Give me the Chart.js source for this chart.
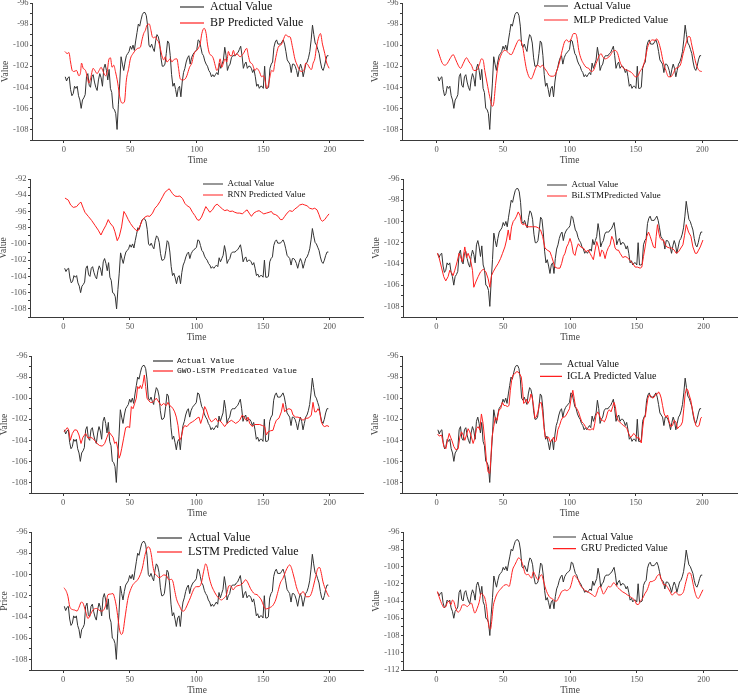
<!DOCTYPE html>
<html><head><meta charset="utf-8">
<script src="https://cdn.jsdelivr.net/npm/chart.js@4.4.1/dist/chart.umd.min.js"></script>
<style>
html,body{margin:0;padding:0;background:#fff;width:738px;height:694px;overflow:hidden;position:relative}
canvas{position:absolute}
</style></head><body>
<script>
// ---------------- DATA ----------------
const actualLabel = 'Actual Value';
const actualValue = [
-103.0,-103.4,-103.1,-103.0,-104.2,-104.8,-104.6,-103.9,-104.1,-103.9,
-104.8,-105.2,-106.0,-105.2,-105.0,-104.7,-103.0,-102.7,-103.8,-104.0,
-103.0,-102.8,-103.5,-104.0,-104.3,-103.3,-102.7,-103.1,-103.9,-102.2,
-101.8,-102.4,-103.3,-102.3,-104.1,-104.5,-106.0,-106.1,-106.5,-108.0,
-105.6,-103.6,-101.1,-101.8,-102.4,-101.6,-101.0,-100.8,-100.6,-100.1,
-100.4,-100.0,-100.5,-99.6,-98.8,-98.0,-98.2,-97.6,-97.1,-96.9,
-96.9,-97.2,-98.2,-100.0,-100.2,-99.9,-100.3,-100.6,-99.6,-99.0,
-99.2,-99.8,-101.2,-102.0,-102.0,-101.8,-100.8,-99.6,-99.8,-101.0,
-102.8,-103.9,-103.6,-104.2,-104.9,-104.1,-103.9,-104.9,-103.5,-102.6,
-102.2,-101.6,-101.2,-101.0,-101.8,-101.2,-100.9,-100.7,-100.6,-100.4,
-99.5,-99.6,-100.2,-100.8,-101.0,-101.5,-101.8,-102.0,-102.4,-102.6,
-103.0,-102.8,-103.0,-102.8,-102.6,-102.8,-101.7,-102.2,-101.8,-101.4,
-100.2,-101.0,-102.4,-102.0,-101.8,-101.2,-101.0,-101.0,-101.0,-100.8,
-100.7,-100.4,-100.1,-101.0,-102.2,-101.8,-101.6,-102.2,-102.0,-102.0,
-102.2,-102.6,-102.3,-103.0,-103.9,-103.7,-104.1,-103.9,-103.9,-104.1,
-102.0,-104.1,-104.1,-104.0,-102.2,-101.8,-101.6,-100.2,-99.7,-99.5,
-99.9,-99.9,-99.9,-99.7,-99.5,-99.9,-100.6,-101.4,-101.6,-101.8,
-102.6,-101.8,-101.8,-102.0,-102.4,-103.0,-102.3,-101.8,-102.2,-103.0,
-102.4,-101.8,-101.6,-101.2,-100.6,-99.5,-98.1,-99.0,-99.8,-100.0,
-100.4,-100.8,-101.6,-102.2,-102.4,-102.0,-101.4,-101.0,-101.0];

// predicted series: [time, value]
const bpPred = [[0.75,-100.6],[2.5,-100.8],[3.75,-100.7],[5,-101.6],[6.25,-102.4],[7.5,-102.5],[9.5,-102.4],[11.25,-102.9],[12.5,-102.6],[13.25,-101.7],[14.5,-102.2],[16.25,-102.4],[17.5,-103.0],[18.75,-103.6],[20,-103.2],[22,-102.2],[23.25,-102.4],[25,-102.7],[26.5,-102.4],[28,-102.1],[29.5,-102.5],[31.25,-102.9],[32.5,-102.6],[33.75,-101.4],[35,-101.2],[36.25,-102.1],[37.5,-101.9],[38.75,-102.5],[40.5,-103.6],[42,-104.9],[43.75,-105.5],[45.5,-105.4],[47,-103.3],[48.75,-102.2],[50,-101.3],[52,-100.8],[53.75,-100.5],[55.5,-100.3],[57.5,-100.2],[58.75,-99.5],[60,-98.9],[61.25,-98.6],[62.5,-98.1],[64.25,-98.0],[65.5,-98.6],[66.5,-99.2],[67.5,-99.3],[68.75,-99.2],[70,-99.5],[71.25,-99.7],[72.5,-100.3],[73.75,-101.0],[75,-101.4],[76.25,-101.1],[77.5,-101.6],[80,-101.3],[81.25,-101.6],[82.5,-101.4],[85,-101.3],[86.25,-102.2],[87.5,-103.2],[89.5,-103.3],[91.25,-103.2],[92.5,-102.9],[94.5,-102.1],[96.25,-101.7],[97.5,-101.0],[98.75,-100.6],[100,-100.5],[101.5,-100.2],[102.5,-99.9],[103.75,-98.9],[105.5,-98.4],[107,-98.9],[108,-99.9],[109.5,-100.8],[111.25,-101.0],[112.5,-101.3],[113.75,-101.9],[115,-102.4],[116.25,-102.1],[117.5,-101.3],[118.75,-102.1],[120,-101.7],[121.25,-101.3],[122.5,-101.6],[123.75,-100.6],[125,-101.0],[126.25,-101.0],[127.5,-100.5],[128.75,-101.0],[130,-100.8],[132.5,-101.1],[135,-100.8],[137.5,-100.3],[138.75,-101.0],[140,-101.6],[141.75,-101.8],[143.75,-102.4],[145,-102.2],[147,-102.5],[148.75,-103.0],[150,-102.9],[151.25,-103.3],[152.5,-104.1],[153.75,-103.8],[155,-103.0],[156.25,-102.4],[157.5,-102.5],[158.75,-101.6],[160,-100.8],[161.25,-100.2],[163.75,-99.9],[165,-99.5],[167,-99.0],[168.75,-99.2],[170,-99.2],[172,-100.2],[173.75,-101.3],[175.5,-101.9],[177.5,-102.4],[178.75,-102.5],[180.5,-102.4],[182,-101.7],[183.75,-101.9],[185,-102.2],[186.25,-102.3],[187.5,-101.7],[188.75,-101.3],[190,-100.2],[191.75,-99.2],[193,-98.9],[194.5,-99.9],[196.25,-100.8],[197.5,-101.6],[199.5,-102.2]];

const mlpPred = [[0.75,-100.4],[2.5,-101.1],[4.5,-101.75],[6.25,-101.9],[8,-101.75],[10,-101.3],[12.5,-100.9],[14.5,-101.4],[16.25,-101.9],[18,-102.2],[20,-101.75],[22.5,-101.2],[24.5,-101.6],[26.25,-101.9],[28,-102.4],[30,-102.4],[32,-101.9],[33.75,-101.3],[35,-101.4],[36.25,-102.4],[38,-103.6],[40,-104.9],[42,-105.8],[43,-105.5],[44.5,-103.6],[46.25,-101.9],[48,-101.1],[50,-100.6],[52,-100.5],[54.5,-100.8],[56.25,-100.9],[58,-100.5],[60,-99.9],[62,-99.5],[63.75,-99.7],[65,-100.3],[66.25,-101.3],[67.5,-102.2],[69.5,-103.0],[71.25,-103.2],[72.5,-102.9],[74.5,-102.2],[76.25,-101.9],[78,-102.1],[79.5,-101.9],[81.25,-102.2],[83,-102.5],[85,-102.9],[87,-102.95],[88.75,-102.9],[90.5,-102.4],[92.5,-101.6],[94.5,-100.5],[96.25,-99.7],[98,-99.5],[99.5,-99.7],[101.25,-99.4],[103,-98.9],[104.5,-98.9],[105.5,-99.2],[107,-100.5],[108.75,-101.3],[110.5,-101.75],[112.5,-102.1],[114.5,-102.2],[116.25,-102.5],[118,-102.4],[120,-101.75],[122,-101.1],[123.75,-100.8],[125,-101.1],[127,-101.3],[128.75,-101.2],[130.5,-101.0],[132.5,-100.6],[134.5,-100.5],[136.25,-100.8],[138,-101.6],[140,-102.1],[142,-102.3],[143.75,-102.4],[145.5,-102.5],[147.5,-102.7],[149.5,-103.0],[151.25,-102.95],[153,-102.5],[155,-102.1],[157,-101.3],[158.75,-100.2],[160.5,-99.7],[162.5,-99.5],[164.5,-99.55],[165.5,-99.4],[167,-99.7],[168.75,-100.5],[170.5,-101.6],[172.5,-102.4],[174.5,-103.0],[176.25,-103.0],[178,-102.7],[180,-102.2],[182,-102.1],[183.75,-101.75],[185.5,-100.8],[187.5,-99.9],[189.25,-99.2],[190.5,-99.2],[192,-100.0],[193.75,-101.0],[195.5,-101.9],[197.5,-102.4],[199.5,-102.5]];

const rnnPred = [[1.25,-94.35],[3.75,-94.6],[5.5,-95.2],[7.5,-95.5],[10,-95.4],[12,-95.0],[13.25,-94.85],[15,-95.6],[16.25,-96.1],[18.75,-96.6],[21.25,-97.1],[23.75,-97.7],[26.25,-98.3],[28.25,-98.9],[30,-98.3],[32,-97.7],[33.75,-97.0],[35,-97.4],[37.5,-97.9],[38.75,-98.5],[40.5,-99.6],[42,-99.1],[43.75,-97.9],[45.5,-96.0],[47,-96.4],[48.75,-97.0],[50.5,-97.5],[52.5,-97.95],[54.5,-98.3],[56,-98.4],[57.5,-97.8],[59.5,-97.0],[61.25,-96.7],[63,-96.55],[65,-96.6],[67,-96.2],[68.75,-95.6],[70.5,-95.3],[72.5,-94.8],[74.5,-94.2],[76.25,-93.65],[78,-93.4],[79.5,-93.2],[80.75,-93.5],[82,-93.8],[83.75,-94.1],[85.5,-94.15],[87.5,-94.1],[89.5,-94.4],[91.25,-95.0],[93,-95.3],[95,-95.5],[97,-96.1],[98.75,-96.5],[100.5,-97.0],[102,-97.1],[103.75,-96.7],[105.5,-96.0],[107,-95.4],[108.75,-95.8],[110,-96.1],[112,-95.8],[113.75,-95.3],[115.5,-95.1],[117.5,-95.4],[119.5,-95.7],[121.25,-95.9],[123,-95.8],[125,-96.0],[127,-95.95],[128.75,-96.1],[130.5,-96.2],[132.5,-96.2],[134.5,-96.3],[136.25,-96.0],[138,-95.8],[139.5,-96.2],[141.25,-96.6],[143,-96.2],[145,-96.0],[147,-95.9],[148.75,-96.1],[150.5,-96.3],[152.5,-96.2],[154.5,-96.1],[156.25,-96.0],[157.5,-96.3],[159.5,-96.4],[161.25,-96.6],[163,-97.0],[164.5,-97.0],[166.25,-96.6],[168,-96.2],[170,-95.9],[172,-96.0],[173.75,-95.7],[175.5,-95.5],[177.5,-95.2],[179.5,-95.1],[181.25,-95.2],[183,-95.3],[185,-95.6],[187,-95.7],[188.75,-95.6],[190.5,-95.8],[192,-96.4],[193.25,-97.0],[194.5,-97.2],[196.25,-97.0],[198,-96.6],[199.5,-96.3]];

const bilstmPred = [[0.75,-103.0],[2,-103.4],[3.75,-104.3],[5.5,-105.2],[7,-105.6],[8.75,-105.2],[10,-104.6],[11.25,-104.8],[12.5,-105.1],[13.75,-104.6],[15.5,-103.8],[17,-103.0],[18,-103.3],[19.5,-103.8],[21.25,-102.4],[22.5,-103.4],[23.75,-103.0],[25.5,-103.6],[27,-104.6],[28,-106.2],[29.5,-105.7],[31.25,-105.2],[33,-104.75],[35,-104.5],[37,-104.75],[38.75,-105.4],[40,-106.2],[41.25,-105.1],[42.5,-104.75],[44.5,-104.3],[46.25,-103.95],[48,-103.5],[49.5,-103.0],[51.25,-102.4],[52.5,-101.75],[53.75,-100.8],[55,-101.75],[56.25,-100.5],[57.5,-100.0],[58.75,-99.8],[60,-99.5],[61.25,-99.1],[62.5,-99.4],[63.75,-100.2],[65,-100.3],[66.25,-100.2],[67.5,-100.5],[69.5,-100.5],[72,-100.5],[74.5,-100.5],[76.25,-100.6],[78,-100.8],[79.5,-101.4],[81.25,-102.5],[83,-102.7],[85,-102.85],[86.25,-103.3],[87.5,-103.8],[88.75,-104.3],[90.5,-104.4],[92.5,-104.4],[93.75,-103.95],[95,-103.3],[96.25,-103.0],[97.5,-102.4],[98.75,-102.1],[100,-101.6],[101.25,-102.1],[102.5,-103.0],[103.75,-103.2],[105,-102.5],[106.25,-102.1],[108,-102.4],[110,-102.5],[112,-102.85],[113.75,-102.7],[115,-103.0],[116.25,-103.3],[117.5,-103.6],[118.75,-102.7],[120,-101.9],[121.25,-102.4],[122.5,-103.3],[123.75,-102.7],[125,-102.85],[126.25,-103.5],[127.5,-102.85],[128.75,-102.45],[130,-102.2],[131.25,-101.4],[132.5,-101.75],[133.75,-102.5],[135,-102.7],[136.25,-102.7],[137.5,-103.0],[139.5,-103.4],[141.25,-103.3],[143,-103.4],[145,-103.7],[147,-103.95],[148.75,-104.3],[150.5,-104.3],[152.5,-104.4],[153.75,-104.3],[155,-103.3],[156.25,-102.4],[157.5,-101.4],[158.75,-101.0],[160,-101.4],[161.25,-101.9],[162.5,-102.4],[163.75,-102.5],[164.5,-101.4],[165.5,-100.3],[166.5,-101.1],[167.5,-101.6],[168.75,-101.75],[170,-101.75],[171.25,-102.2],[172.5,-102.4],[174.5,-102.5],[176.25,-102.5],[178,-102.7],[179.5,-103.0],[181.25,-102.85],[183,-102.5],[184.5,-102.2],[185.75,-101.3],[187,-100.3],[188.75,-101.0],[190.5,-101.4],[192,-102.4],[193.75,-103.0],[195,-103.0],[196.25,-102.7],[197.5,-102.4],[199.5,-101.75]];

const gwoPred = [[0.75,-103.2],[2,-103.0],[3.25,-102.8],[4.25,-103.0],[5.5,-104.0],[7,-103.35],[8.75,-103.0],[10.5,-103.05],[12,-103.5],[13.5,-104.3],[15,-103.7],[17,-103.35],[18.75,-103.8],[20.5,-103.7],[22,-103.8],[23.75,-104.0],[25.5,-104.3],[27.5,-104.5],[29.5,-104.55],[31.25,-104.3],[33,-103.7],[34.5,-103.2],[36.25,-103.5],[37.5,-103.7],[38.75,-104.3],[40,-104.15],[41.25,-104.9],[42,-105.7],[43,-105.4],[44,-104.8],[45.5,-103.8],[47,-102.8],[48.75,-102.7],[50,-102.8],[51.25,-100.8],[52.5,-101.0],[53.75,-100.5],[55,-100.0],[56,-98.9],[57,-99.1],[58,-98.8],[59,-99.1],[60,-98.6],[61,-97.8],[62,-98.9],[63,-100.0],[64,-100.2],[65.5,-100.4],[67,-100.4],[68.75,-100.2],[70,-100.0],[72,-100.4],[73.75,-100.7],[75.5,-100.5],[77.5,-100.7],[78.75,-100.4],[80,-100.7],[81.25,-100.8],[82.5,-101.0],[83.75,-101.3],[85,-101.8],[86.25,-102.6],[87.5,-104.0],[88.75,-103.7],[90,-102.9],[91.25,-102.6],[93,-102.7],[95,-102.4],[97,-102.25],[98.75,-102.1],[100.5,-101.9],[102,-101.8],[103.25,-102.4],[104.5,-101.9],[106.25,-100.8],[107.5,-101.1],[109.5,-101.9],[111.25,-102.25],[113,-102.1],[114.5,-101.9],[116.25,-102.25],[117.5,-102.1],[119.5,-102.4],[121.25,-102.7],[123,-102.4],[124.5,-102.25],[126.25,-102.1],[128,-102.25],[129.5,-102.4],[131.25,-102.25],[132.5,-102.1],[134.5,-101.6],[136.25,-101.9],[137.5,-102.1],[138.75,-101.8],[140,-102.4],[142,-102.7],[143.75,-102.5],[145.5,-102.5],[147.5,-102.5],[149.5,-102.6],[151.25,-102.7],[152.5,-103.5],[153.75,-103.2],[155.5,-103.1],[157.5,-103.05],[158.75,-102.5],[160,-102.1],[162,-101.9],[163.75,-101.3],[165,-100.5],[166.25,-101.3],[167.5,-101.1],[169.5,-101.0],[171.25,-101.1],[172.5,-101.6],[174.5,-101.8],[176.25,-101.8],[178,-101.9],[180,-102.1],[182,-101.9],[183.75,-101.9],[185,-101.8],[186.25,-101.6],[187.5,-100.4],[188.75,-101.3],[190,-101.3],[191.25,-101.0],[192.5,-101.3],[193.75,-102.25],[195,-102.6],[196.25,-102.7],[198,-102.6],[199.5,-102.7]];

const iglaPred = [[0.75,-103.4],[2,-103.6],[3.75,-103.5],[5.5,-104.6],[7,-104.8],[8,-104.15],[9.5,-103.35],[10.5,-103.7],[11.5,-104.0],[13,-104.6],[14.5,-104.9],[16.25,-104.8],[17.5,-103.7],[18.75,-103.2],[20,-103.5],[21.25,-104.0],[22.5,-103.5],[23.75,-102.9],[25,-103.2],[26.25,-103.7],[27.5,-104.3],[28.75,-103.8],[30,-102.9],[31.25,-102.7],[32.5,-103.0],[33.75,-101.5],[35,-102.4],[36.25,-104.0],[37.5,-105.9],[38.75,-107.0],[40,-107.15],[40.75,-105.9],[41.75,-103.7],[43,-102.7],[44.25,-101.8],[45.5,-102.1],[47,-101.1],[48.25,-101.0],[49.5,-100.4],[50.75,-100.7],[52,-100.7],[53.25,-100.8],[54.5,-100.7],[55.5,-99.25],[56.5,-98.3],[57.5,-97.8],[58.75,-97.7],[60,-97.5],[61.25,-97.5],[62.5,-97.7],[63.75,-98.0],[64.5,-98.9],[65.5,-100.5],[66.5,-100.4],[67.5,-100.1],[68.75,-100.5],[70,-100.2],[71,-99.6],[72,-100.0],[73,-100.8],[74,-101.9],[75,-101.8],[76.25,-101.3],[77.5,-100.5],[78.75,-100.4],[79.75,-101.3],[80.75,-102.7],[81.75,-103.7],[83,-103.8],[84.25,-103.7],[85.5,-104.15],[86.75,-104.0],[88,-103.7],[89,-104.15],[90,-104.0],[91.25,-103.0],[92.5,-102.6],[93.75,-102.1],[95,-101.8],[96.25,-101.8],[97.5,-101.6],[98.75,-101.3],[100,-101.0],[101.25,-100.0],[102.5,-99.25],[103.5,-100.0],[104.5,-100.8],[105.5,-101.0],[106.75,-101.3],[108,-101.8],[109.25,-102.25],[110.5,-102.4],[112,-102.7],[113.25,-102.9],[114.5,-103.0],[115.75,-103.0],[117,-102.9],[118,-103.0],[119,-102.4],[120,-101.6],[121.25,-101.3],[122.5,-101.6],[123.75,-102.1],[125,-102.1],[126.25,-102.25],[127.5,-101.9],[128.75,-101.3],[130,-101.1],[131.25,-101.3],[132.5,-100.8],[133.5,-100.4],[134.5,-100.8],[135.5,-101.8],[136.5,-102.1],[137.5,-102.25],[139,-102.4],[140.5,-102.6],[142,-102.7],[143.25,-102.9],[144.5,-103.35],[145.75,-103.7],[147,-103.6],[148.25,-103.35],[149.5,-103.5],[150.75,-103.8],[152,-103.7],[153,-104.0],[154,-104.25],[155,-102.9],[156,-101.9],[157,-101.8],[158,-100.8],[159,-100.0],[160,-99.7],[161.25,-99.8],[162.5,-100.0],[163.75,-99.9],[165,-99.6],[166.25,-99.6],[167,-99.4],[168,-99.6],[169,-100.0],[170,-100.7],[171.25,-101.5],[172.5,-101.8],[173.75,-101.6],[175,-102.25],[176.25,-102.7],[177.5,-102.6],[178.75,-102.1],[180,-102.25],[181.25,-102.9],[182.5,-102.7],[183.75,-102.6],[185,-102.25],[186,-101.0],[187,-99.6],[188,-99.1],[189,-99.25],[190,-99.7],[191.25,-100.2],[192.5,-101.1],[193.75,-101.9],[195,-102.6],[196.25,-102.7],[197.5,-102.6],[198.75,-101.9],[199.5,-101.8]];

const lstmPred = [[0.75,-101.25],[2.5,-101.6],[3.75,-102.1],[5,-103.0],[7,-103.3],[8.75,-103.35],[10.5,-103.45],[12,-103.1],[13.75,-102.6],[15,-102.7],[17,-103.5],[18.75,-104.15],[20.5,-103.8],[22.5,-103.35],[25,-103.2],[27,-103.35],[28.75,-103.45],[30.5,-103.35],[32,-102.9],[33.75,-101.9],[35.5,-101.85],[37.5,-101.8],[38.75,-102.25],[40,-103.0],[41.25,-104.15],[42.5,-105.25],[43.75,-105.65],[45,-105.4],[46.25,-104.3],[47.5,-103.2],[48.75,-102.25],[50.5,-101.5],[52.5,-100.95],[54.5,-100.7],[56.25,-100.45],[58,-100.0],[59.5,-99.4],[61.25,-98.3],[62.5,-97.7],[63.75,-97.4],[65,-97.5],[66.25,-98.15],[67.5,-99.25],[68.75,-99.9],[70,-100.05],[72,-100.3],[73.75,-100.2],[75.5,-100.05],[77.5,-100.1],[78.75,-100.4],[80,-100.5],[81.25,-100.45],[82.5,-100.7],[83.75,-101.5],[85,-102.25],[86.25,-102.7],[87.5,-103.0],[88.75,-103.35],[90.5,-103.45],[92,-103.2],[93.75,-102.7],[95.5,-102.2],[97,-101.7],[98.75,-101.25],[100.5,-101.15],[102,-101.15],[103.75,-100.8],[105.5,-99.7],[107,-99.0],[108,-99.25],[109.5,-100.2],[111.25,-101.0],[113,-101.5],[115,-101.95],[117,-102.25],[118.75,-102.4],[120.5,-102.25],[122.5,-101.95],[124.5,-101.05],[126.25,-101.15],[127.5,-101.45],[129.5,-101.15],[131.25,-101.05],[133,-101.0],[135,-100.8],[137,-100.5],[138.75,-100.8],[140.5,-101.3],[142,-101.6],[143.75,-101.85],[145.5,-101.9],[147,-102.1],[148.75,-102.4],[150.5,-102.95],[152,-103.25],[153.75,-103.2],[155.5,-103.1],[157.5,-102.9],[159.5,-102.4],[161.25,-101.6],[163,-100.8],[165,-100.35],[167,-99.7],[168.75,-99.25],[170,-99.1],[171.25,-99.35],[172.5,-99.9],[173.75,-100.5],[175,-101.15],[176.25,-101.6],[177.5,-101.9],[178.75,-101.8],[180,-101.6],[181.25,-101.85],[182.5,-102.1],[184.5,-102.1],[186.25,-101.8],[188,-101.0],[189.5,-100.2],[191.25,-99.4],[192.5,-99.35],[193.75,-99.9],[195,-100.7],[197,-101.45],[198.75,-101.95],[199.5,-102.1]];

const gruPred = [[0.75,-102.9],[2,-103.5],[3.25,-104.05],[4.5,-104.5],[5.5,-104.75],[7,-104.65],[8,-104.25],[9.5,-104.0],[10.75,-104.45],[12,-103.9],[13,-104.05],[14.5,-104.85],[16.25,-105.3],[18,-105.0],[19.5,-104.45],[21.25,-104.45],[23,-104.65],[24.5,-104.45],[26.25,-104.25],[27.5,-104.85],[28.75,-105.4],[30.5,-104.85],[32,-104.15],[33.5,-103.1],[35,-103.3],[36.25,-103.65],[37.5,-104.65],[38.75,-106.4],[39.5,-107.1],[40.5,-107.25],[41.5,-106.2],[42.5,-104.65],[43.75,-103.85],[45,-103.3],[47,-102.8],[48.75,-102.5],[50.5,-102.2],[52.5,-102.1],[54.5,-102.3],[55.5,-101.7],[57,-100.4],[58.75,-99.8],[60,-99.4],[61.5,-99.0],[62.5,-99.1],[63.75,-99.4],[65,-100.0],[66.25,-100.75],[67.5,-100.95],[68.75,-100.9],[70,-101.15],[71.25,-101.35],[72.5,-100.6],[73.75,-100.95],[75,-101.35],[76.25,-101.55],[77.5,-101.15],[78.75,-100.95],[80,-101.55],[81.25,-102.3],[82.5,-102.9],[83.75,-103.3],[85,-103.6],[86.25,-103.7],[87.5,-103.85],[88.75,-104.0],[90,-104.0],[91.25,-103.7],[92.5,-103.3],[93.75,-102.9],[95,-102.8],[96.25,-102.7],[97.5,-102.8],[98.75,-102.7],[100,-102.5],[101.25,-101.9],[102.5,-101.15],[103.75,-101.05],[105,-101.35],[106.25,-101.55],[107.5,-102.1],[109.5,-102.5],[111.25,-102.8],[113,-102.9],[115,-103.1],[117,-103.3],[118.75,-103.5],[120,-103.1],[121.25,-102.5],[122.5,-102.3],[123.75,-102.7],[125,-103.2],[126.25,-102.95],[127.5,-102.6],[128.75,-102.3],[130,-102.4],[131.25,-102.2],[132.5,-101.9],[133.75,-102.0],[135,-102.3],[136.25,-102.5],[137.5,-102.7],[139.5,-102.95],[141.25,-103.1],[143,-103.3],[145,-103.5],[147,-103.7],[148.75,-104.0],[150,-104.4],[151.25,-104.4],[152.5,-104.05],[153.75,-103.85],[155,-103.5],[156.25,-103.1],[157.5,-102.8],[158.75,-102.3],[160,-101.75],[161.25,-101.75],[162.5,-101.65],[163.75,-101.55],[165,-101.15],[166.25,-100.95],[167,-100.9],[168,-101.35],[169,-101.75],[170,-102.1],[171.25,-102.1],[172.5,-102.3],[173.75,-102.6],[175,-102.95],[176.25,-103.3],[177.5,-103.2],[178.75,-102.95],[180,-103.1],[181.25,-103.3],[182.5,-103.3],[183.75,-103.2],[185,-102.9],[186.25,-102.1],[187.5,-101.35],[188.75,-100.75],[190,-100.75],[191.25,-101.35],[192.5,-102.3],[193.75,-103.1],[195,-103.6],[196.25,-103.7],[197,-103.5],[198.25,-103.1],[199.5,-102.7]];

const xTickValues = [0, 50, 100, 150, 200];
const yTicksStd = [-108, -106, -104, -102, -100, -98, -96];
const yTicksRnn = [-108, -106, -104, -102, -100, -98, -96, -94, -92];
const yTicksGru = [-112, -110, -108, -106, -104, -102, -100, -98, -96];

// ---------------- RENDERING ----------------
const BLACK = '#333333';
const RED = '#ff2020';
const AXIS = '#3a3a3a';
const SERIF = "'Liberation Serif', 'Times New Roman', serif";
const MONO = "'Liberation Mono', monospace";
Chart.defaults.font.family = SERIF;

const legendPlacer = {
  id: 'legendPlacer',
  afterLayout(chart, args, opts) {
    const lg = chart.legend;
    if (!lg || opts.x === undefined) return;
    lg.left = opts.x; lg.top = opts.y;
    lg.width = 320; lg.height = 90;
    lg.right = opts.x + 320; lg.bottom = opts.y + 90;
  }
};

const panels = [
  {pred: bpPred, label: 'BP Predicted Value', yTitle: 'Value', yTicks: yTicksStd, yMin: -109, yMax: -96,
   axisX: 32, top: 3, bottom: 140, right: 363, xMin: -24, xMax: 225,
   legX: 180, legY: 7, legFont: 12, legFam: SERIF, legPad: 4, legLine: 24, smooth: true},
  {pred: mlpPred, label: 'MLP Predicted Value', yTitle: 'Value', yTicks: yTicksStd, yMin: -109, yMax: -96,
   axisX: 402, top: 3, bottom: 140, right: 737, xMin: -26, xMax: 226,
   legX: 544, legY: 6, legFont: 11, legFam: SERIF, legPad: 3, legLine: 24, smooth: true},
  {pred: rnnPred, label: 'RNN Predicted Value', yTitle: 'Value', yTicks: yTicksRnn, yMin: -109, yMax: -92,
   axisX: 30, top: 179, bottom: 317, right: 363, xMin: -25, xMax: 225,
   legX: 203, legY: 184, legFont: 9, legFam: SERIF, legPad: 2, legLine: 20, smooth: false},
  {pred: bilstmPred, label: 'BiLSTMPredicted Value', yTitle: 'Value', yTicks: yTicksStd, yMin: -109, yMax: -96,
   axisX: 403, top: 179, bottom: 317, right: 737, xMin: -25, xMax: 225,
   legX: 547, legY: 185, legFont: 9, legFam: SERIF, legPad: 2, legLine: 20, smooth: false},
  {pred: gwoPred, label: 'GWO-LSTM Predicated Value', yTitle: 'Value', yTicks: yTicksStd, yMin: -109, yMax: -96,
   axisX: 31, top: 356, bottom: 493, right: 363, xMin: -24, xMax: 225,
   legX: 153, legY: 361, legFont: 8, legFam: MONO, legPad: 2, legLine: 20, smooth: false},
  {pred: iglaPred, label: 'IGLA Predicted Value', yTitle: 'Value', yTicks: yTicksStd, yMin: -109, yMax: -96,
   axisX: 402, top: 356, bottom: 493, right: 737, xMin: -26, xMax: 226,
   legX: 540, legY: 364, legFont: 10, legFam: SERIF, legPad: 2.4, legLine: 22, smooth: false},
  {pred: lstmPred, label: 'LSTM Predicted Value', yTitle: 'Price', yTicks: yTicksStd, yMin: -109, yMax: -96,
   axisX: 31, top: 532, bottom: 670, right: 363, xMin: -24, xMax: 225,
   legX: 157, legY: 538, legFont: 12, legFam: SERIF, legPad: 2, legLine: 25, smooth: true},
  {pred: gruPred, label: 'GRU Predicted Value', yTitle: 'Value', yTicks: yTicksGru, yMin: -112, yMax: -96,
   axisX: 403, top: 532, bottom: 670, right: 737, xMin: -25, xMax: 225,
   legX: 553, legY: 537, legFont: 10, legFam: SERIF, legPad: 1.7, legLine: 23, smooth: true}
];

const actualPoints = actualValue.map((v, i) => ({x: i + 1, y: v}));
const YW = 32, XH = 30, PT = 8, PR = 2;
const TICKFONT = {family: SERIF, size: 8.5};

panels.forEach(p => {
  const cl = p.axisX - YW, ct = p.top - PT;
  const w = p.right - cl + PR, h = p.bottom - ct + XH;
  const cv = document.createElement('canvas');
  cv.width = w; cv.height = h;
  cv.style.left = cl + 'px'; cv.style.top = ct + 'px';
  cv.style.width = w + 'px'; cv.style.height = h + 'px';
  document.body.appendChild(cv);
  new Chart(cv, {
    type: 'line',
    data: {datasets: [
      {label: actualLabel, data: actualPoints, borderColor: BLACK, backgroundColor: BLACK,
       borderWidth: 1, pointRadius: 0, tension: 0, order: 1},
      {label: p.label, data: p.pred.map(([x, y]) => ({x, y})), borderColor: RED, backgroundColor: RED,
       borderWidth: 1, pointRadius: 0, tension: 0,
       cubicInterpolationMode: p.smooth ? 'monotone' : 'default', order: 0}
    ]},
    options: {
      responsive: false, animation: false, events: [],
      layout: {padding: {left: 0, top: PT, right: PR, bottom: 0}},
      scales: {
        x: {
          type: 'linear', min: p.xMin, max: p.xMax,
          afterBuildTicks: s => { s.ticks = xTickValues.map(v => ({value: v})); },
          afterFit: s => { s.height = XH; },
          grid: {drawOnChartArea: false, tickLength: 3, color: AXIS, tickColor: AXIS},
          border: {display: true, color: AXIS, width: 1},
          ticks: {font: TICKFONT, color: '#555', padding: 1.5, maxRotation: 0, autoSkip: false,
                  callback: v => String(v)},
          title: {display: true, text: 'Time', font: {family: SERIF, size: 9.5}, color: '#444',
                  padding: {top: 0, bottom: 3.4}}
        },
        y: {
          type: 'linear', min: p.yMin, max: p.yMax,
          afterBuildTicks: s => {
            const t = [];
            for (let v = p.yMin; v <= p.yMax; v++) t.push({value: v});
            s.ticks = t;
          },
          afterFit: s => { s.width = YW; },
          grid: {drawOnChartArea: false, tickLength: 2, color: AXIS, tickColor: AXIS},
          border: {display: true, color: AXIS, width: 1},
          ticks: {font: TICKFONT, color: '#555', padding: 1.5, autoSkip: false,
                  callback: v => p.yTicks.includes(v) ? String(v) : ''},
          title: {display: true, text: p.yTitle, font: {family: SERIF, size: 9.5}, color: '#444',
                  padding: {top: 0, bottom: 0}}
        }
      },
      plugins: {
        tooltip: {enabled: false},
        legend: {
          display: true, position: 'chartArea', align: 'start',
          labels: {
            usePointStyle: true, pointStyleWidth: p.legLine, padding: p.legPad,
            font: {family: p.legFam, size: p.legFont}, color: '#111',
            generateLabels: chart => chart.data.datasets.map((d, i) => ({
              text: d.label, strokeStyle: d.borderColor, fillStyle: d.borderColor,
              lineWidth: 1.2, pointStyle: 'line', hidden: false, datasetIndex: i, fontColor: '#111'
            }))
          }
        },
        legendPlacer: {x: p.legX - cl - p.legPad, y: p.legY - ct - p.legFont / 2 - p.legPad}
      }
    },
    plugins: [legendPlacer]
  });
});
</script>
</body></html>
